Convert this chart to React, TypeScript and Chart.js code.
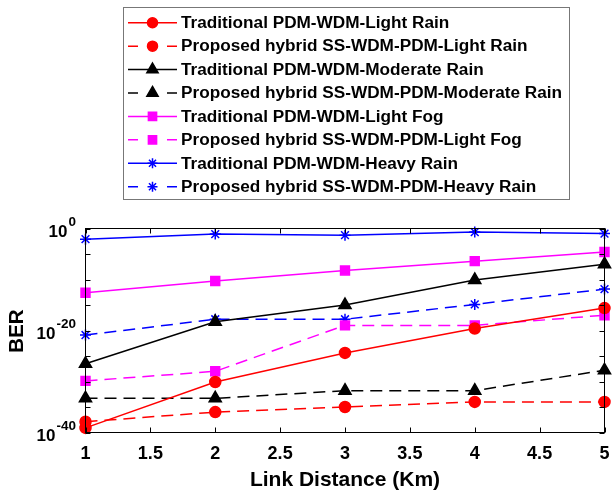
import React, { useEffect, useRef } from 'react';
import { Chart, registerables } from 'chart.js';
import { drawPoint } from 'chart.js/helpers';

Chart.register(...registerables);

// ---------- data ----------
const distances = [1, 2, 3, 4, 5];

const tradLightRain = [8e-40, 8e-31, 4e-25, 2.5e-20, 2.5e-16];
const propLightRain = [1.3e-38, 1e-36, 1e-35, 1e-34, 1e-34];
const tradModerateRain = [3e-27, 5e-19, 1e-15, 8e-11, 1e-7];
const propModerateRain = [5e-34, 5e-34, 1.6e-32, 1.6e-32, 1.6e-28];
const tradLightFog = [2.5e-13, 5e-11, 6e-9, 4e-7, 2.5e-5];
const propLightFog = [1.3e-30, 1e-28, 1e-19, 1e-19, 1e-17];
const tradHeavyRain = [8e-3, 8e-2, 5e-2, 2e-1, 1e-1];
const propHeavyRain = [1.3e-21, 1.6e-18, 1.6e-18, 1.3e-15, 1.3e-12];

const seriesLabels = [
  'Traditional PDM-WDM-Light Rain',
  'Proposed hybrid SS-WDM-PDM-Light Rain',
  'Traditional PDM-WDM-Moderate Rain',
  'Proposed hybrid SS-WDM-PDM-Moderate Rain',
  'Traditional PDM-WDM-Light Fog',
  'Proposed hybrid SS-WDM-PDM-Light Fog',
  'Traditional PDM-WDM-Heavy Rain',
  'Proposed hybrid SS-WDM-PDM-Heavy Rain',
];

const xTickValues = [1, 1.5, 2, 2.5, 3, 3.5, 4, 4.5, 5];
const xTickLabels = ['1', '1.5', '2', '2.5', '3', '3.5', '4', '4.5', '5'];
const yTickValues = [1, 1e-20, 1e-40];
const yTickExponents = ['0', '-20', '-40'];
const yMinorTickValues = [1, 1e-5, 1e-10, 1e-15, 1e-20, 1e-25, 1e-30, 1e-35, 1e-40];

const xTitle = 'Link Distance (Km)';
const yTitle = 'BER';

// ---------- styles ----------
const FONT = '"Liberation Sans", Arial, Helvetica, sans-serif';
const RED = '#ff0000';
const BLACK = '#000000';
const MAGENTA = '#ff00ff';
const BLUE = '#0000ff';
const DASH = [12, 7];

type SeriesStyle = { color: string; dashed: boolean; pointStyle: string; radius: number };
const styles: SeriesStyle[] = [
  { color: RED, dashed: false, pointStyle: 'circle', radius: 5.5 },
  { color: RED, dashed: true, pointStyle: 'circle', radius: 5.5 },
  { color: BLACK, dashed: false, pointStyle: 'triangle', radius: 7 },
  { color: BLACK, dashed: true, pointStyle: 'triangle', radius: 7 },
  { color: MAGENTA, dashed: false, pointStyle: 'rect', radius: 6.3 },
  { color: MAGENTA, dashed: true, pointStyle: 'rect', radius: 6.3 },
  { color: BLUE, dashed: false, pointStyle: 'star', radius: 5.5 },
  { color: BLUE, dashed: true, pointStyle: 'star', radius: 5.5 },
];
const seriesData = [
  tradLightRain,
  propLightRain,
  tradModerateRain,
  propModerateRain,
  tradLightFog,
  propLightFog,
  tradHeavyRain,
  propHeavyRain,
];

const overlayPlugin = {
  id: 'overlay',
  afterDraw(chart: any) {
    const ctx: CanvasRenderingContext2D = chart.ctx;
    const { left, right, top, bottom } = chart.chartArea;
    const xs = chart.scales.x;
    const ys = chart.scales.y;
    ctx.save();

    // axes box
    ctx.strokeStyle = '#000';
    ctx.lineWidth = 1;
    ctx.setLineDash([]);
    ctx.strokeRect(left, top, right - left, bottom - top);

    // inner tick marks
    const tl = 5;
    ctx.beginPath();
    xTickValues.forEach((v) => {
      const px = Math.round(xs.getPixelForValue(v)) + 0.5;
      ctx.moveTo(px, bottom);
      ctx.lineTo(px, bottom - tl);
      ctx.moveTo(px, top);
      ctx.lineTo(px, top + tl);
    });
    yMinorTickValues.forEach((v) => {
      const py = Math.round(ys.getPixelForValue(v)) + 0.5;
      ctx.moveTo(left, py);
      ctx.lineTo(left + tl, py);
      ctx.moveTo(right, py);
      ctx.lineTo(right - tl, py);
    });
    ctx.stroke();

    ctx.fillStyle = '#000';
    // x tick labels
    ctx.font = `bold 18px ${FONT}`;
    ctx.textAlign = 'center';
    ctx.textBaseline = 'middle';
    xTickValues.forEach((v, i) => {
      ctx.fillText(xTickLabels[i], xs.getPixelForValue(v), 454);
    });

    // y tick labels 10^e
    yTickValues.forEach((v, i) => {
      const py = ys.getPixelForValue(v);
      ctx.textAlign = 'right';
      ctx.textBaseline = 'middle';
      ctx.font = `bold 13.5px ${FONT}`;
      const supW = ctx.measureText(yTickExponents[i]).width;
      ctx.fillText(yTickExponents[i], 76, py - 6);
      ctx.font = `bold 17px ${FONT}`;
      ctx.fillText('10', 76 - supW - 1, py + 4);
    });

    // x title
    ctx.font = `bold 21px ${FONT}`;
    ctx.textAlign = 'center';
    ctx.textBaseline = 'middle';
    ctx.fillText(xTitle, (left + right) / 2, 480);

    // y title
    ctx.save();
    ctx.translate(17, 331);
    ctx.rotate(-Math.PI / 2);
    ctx.font = `bold 20.5px ${FONT}`;
    ctx.fillText(yTitle, 0, 0);
    ctx.restore();

    // legend
    ctx.fillStyle = '#fff';
    ctx.fillRect(123.5, 7.5, 446, 192);
    ctx.strokeStyle = '#777';
    ctx.lineWidth = 1;
    ctx.strokeRect(123.5, 7.5, 446, 192);
    chart.data.datasets.forEach((ds: any, i: number) => {
      const st = styles[i];
      const y = 22.7 + i * 23.43;
      ctx.strokeStyle = st.color;
      ctx.fillStyle = st.color;
      ctx.lineWidth = 1.5;
      ctx.setLineDash([]);
      ctx.beginPath();
      if (st.dashed) {
        ctx.moveTo(128, y);
        ctx.lineTo(138, y);
        ctx.moveTo(167, y);
        ctx.lineTo(177, y);
      } else {
        ctx.moveTo(128, y);
        ctx.lineTo(177, y);
      }
      ctx.stroke();
      drawPoint(ctx, { pointStyle: st.pointStyle as any, radius: st.radius - 0.5, rotation: 0, borderWidth: 1.5 } as any, 152.5, y);
      ctx.fillStyle = '#000';
      ctx.font = `bold 17.2px ${FONT}`;
      ctx.textAlign = 'left';
      ctx.textBaseline = 'middle';
      ctx.fillText(ds.label, 181, y + 0.5);
    });

    ctx.restore();
  },
};

export default function App() {
  const canvasRef = useRef<HTMLCanvasElement | null>(null);

  useEffect(() => {
    const canvas = canvasRef.current;
    if (!canvas) return;
    const datasets = seriesData.map((vals, i) => {
      const st = styles[i];
      return {
        label: seriesLabels[i],
        data: distances.map((d, j) => ({ x: d, y: vals[j] })),
        borderColor: st.color,
        backgroundColor: st.color,
        borderWidth: 1.5,
        borderDash: st.dashed ? DASH : [],
        pointStyle: st.pointStyle,
        pointRadius: st.radius,
        pointBorderWidth: 1.5,
        pointBorderColor: st.color,
        pointBackgroundColor: st.color,
        tension: 0,
        fill: false,
        clip: false as any,
      };
    });
    const chart = new Chart(canvas, {
      type: 'line',
      data: { datasets: datasets as any },
      options: {
        animation: false,
        responsive: false,
        devicePixelRatio: 1,
        layout: { padding: { left: 85.5, right: 4.5, top: 228.5, bottom: 62.5 } },
        plugins: { legend: { display: false }, tooltip: { enabled: false } },
        scales: {
          x: { type: 'linear', min: 1, max: 5, display: false },
          y: { type: 'logarithmic', min: 1e-40, max: 1, display: false },
        },
      },
      plugins: [overlayPlugin],
    });
    return () => chart.destroy();
  }, []);

  return (
    <div style={{ position: 'absolute', left: 0, top: 0, width: 613, height: 495, background: '#fff' }}>
      <canvas ref={canvasRef} width={613} height={495} style={{ width: 613, height: 495, display: 'block' }} />
    </div>
  );
}
